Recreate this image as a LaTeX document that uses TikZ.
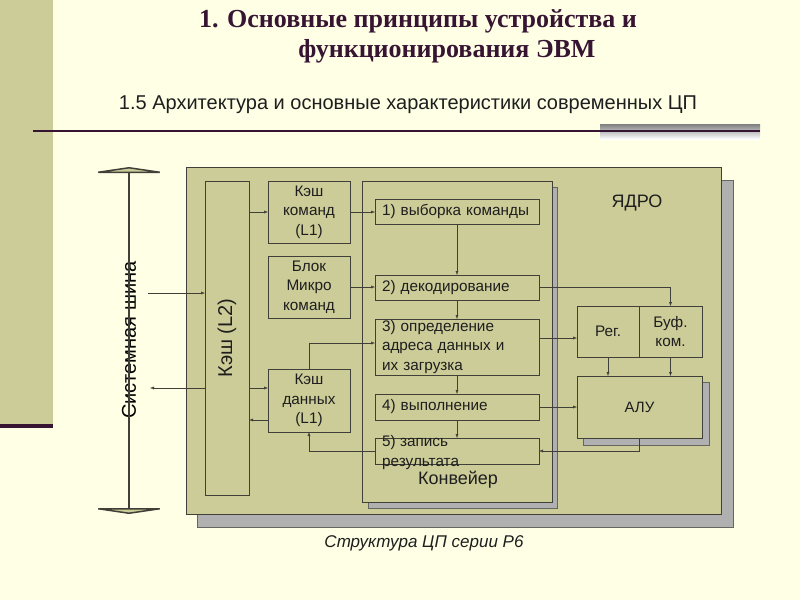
\documentclass[tikz,border=0pt]{standalone}
\usepackage{fontspec}
\setmainfont{Liberation Sans}
\newfontfamily\serifbold{Liberation Serif}
\usetikzlibrary{arrows.meta}
\definecolor{cream}{RGB}{255,255,230}
\definecolor{khaki}{RGB}{204,204,153}
\definecolor{shade}{RGB}{176,176,176}
\definecolor{darkplum}{RGB}{55,20,50}
\definecolor{lines}{RGB}{64,64,56}
\definecolor{ink}{RGB}{30,30,30}
\tikzset{
  blk/.style={draw=lines, fill=khaki, anchor=north west, inner sep=0pt, outer sep=0pt,
    align=center, text=ink, font=\fontsize{15.3}{19.5}\selectfont},
  stage/.style={blk, minimum width=164pt, minimum height=25pt, inner xsep=7pt,
    text width=150pt, align=left},
  shadowbox/.style={fill=shade, draw=lines!80},
  link/.style={draw=lines, -{Latex[length=4pt,width=3pt]}},
  bus/.style={draw=lines, line width=1.6pt,
    {Triangle[width=82pt,length=6pt,fill=khaki]}-{Triangle[width=82pt,length=6pt,fill=khaki]}}
}

\begin{document}
\begin{tikzpicture}[x=1pt,y=-1pt]
\fill[cream] (0,0) rectangle (800,600);
\fill[khaki] (0,0) rectangle (53,425);
\fill[darkplum] (0,424) rectangle (53,428);
\fill[shade] (600,124) rectangle (760,139);
\draw[darkplum, line width=1.8pt] (33,131) -- (760,131);
\node[text=darkplum, font=\serifbold\bfseries\fontsize{26}{30}\selectfont] (title1) at (418,21) {1. Основные принципы устройства и};
\node[text=darkplum, font=\serifbold\bfseries\fontsize{26}{30}\selectfont] (title2) at (447,51) {функционирования ЭВМ};
\node[text=ink, font=\fontsize{20}{24}\selectfont] (subtitle) at (408,105) {1.5 Архитектура и основные характеристики современных ЦП};

\filldraw[shadowbox] (197,180) rectangle (733,527);
\node[blk, minimum width=535pt, minimum height=347pt] (core) at (186,167) {};
\node[text=ink, font=\fontsize{18}{22}\selectfont] (yadro) at (637,203) {ЯДРО};

\node[blk, minimum width=44pt, minimum height=314pt] (l2) at (205,181) {};
\node[rotate=90, text=ink, font=\fontsize{20}{24}\selectfont] (l2text) at (l2.center) {Кэш (L2)};
\node[blk, minimum width=82pt, minimum height=62pt] (kc) at (268,181) {Кэш\\команд\\(L1)};
\node[blk, minimum width=82pt, minimum height=62pt] (mk) at (268,256) {Блок\\Микро\\команд};
\node[blk, minimum width=82pt, minimum height=63pt] (kd) at (268,369) {Кэш\\данных\\(L1)};

\filldraw[shadowbox] (368,187) rectangle (557,508);
\node[blk, minimum width=190pt, minimum height=321pt] (conv) at (362,181) {};
\node[text=ink, font=\fontsize{18}{22}\selectfont] (convtext) at (458,480) {Конвейер};

\node[stage] (s1) at (375,199) {1) выборка команды};
\node[stage] (s2) at (375,275) {2) декодирование};
\node[stage, minimum height=56pt] (s3) at (375,319) {3) определение\\адреса данных и\\их загрузка};
\node[stage, minimum height=26pt] (s4) at (375,394) {4) выполнение};
\node[blk, minimum width=164pt, minimum height=26pt] (s5) at (375,438) {};
\node[anchor=north west, inner sep=0pt, align=left, text=ink, font=\fontsize{15.3}{20}\selectfont] (s5text) at (382,435) {5) запись\\результата};

\node[blk, minimum width=62pt, minimum height=51pt] (reg) at (577,306) {Рег.};
\node[blk, minimum width=63pt, minimum height=51pt] (buf) at (639,306) {Буф.\\ком.};
\filldraw[shadowbox] (583,382) rectangle (709,445);
\node[blk, minimum width=125pt, minimum height=62pt, font=\fontsize{15}{18}\selectfont] (alu) at (577,376) {АЛУ};

\node[rotate=90, text=black, font=\fontsize{20}{24}\selectfont] (bustext) at (129,340) {Системная шина};
\coordinate (bustop) at (129,167);
\coordinate (busbot) at (129,514);
\draw[bus] (bustop) -- (busbot);
\coordinate (busin) at (148,293);
\coordinate (busout) at (150,388);

\draw[link] (busin) -- (l2.west |- busin);
\draw[link] (l2.west |- busout) -- (busout);
\draw[link] (l2.east |- kc) -- (kc.west);
\draw[link] (kc.east) -- (kc.east -| s1.west);
\draw[link] (mk.east) -- (mk.east -| s2.west);
\draw[link] (kd.north) |- ([yshift=4pt]s3.west);
\draw[link] ([yshift=12.5pt]kd.west -| l2.east) -- ([yshift=12.5pt]kd.west);
\draw[link] ([yshift=-19.5pt]kd.west) -- ([yshift=-19.5pt]kd.west -| l2.east);
\draw[link] (s5.west) -| (kd.south);
\draw[link] (s1) -- (s2);
\draw[link] (s2) -- (s3);
\draw[link] (s3) -- (s4);
\draw[link] (s4) -- (s5);
\draw[link] (s2.east) -| (buf.north);
\draw[link] ([yshift=9pt]s3.east) -- ([yshift=9pt]s3.east -| reg.west);
\draw[link] (reg.south) -- (reg.south |- alu.north);
\draw[link] (buf.south) -- (buf.south |- alu.north);
\draw[link] (s4.east) -- (s4.east -| alu.west);
\draw[link] (alu.south) |- (s5.east);

\node[text=ink, font=\itshape\fontsize{17}{20}\selectfont] (caption) at (424,543) {Структура ЦП серии Р6};
\end{tikzpicture}
\end{document}
